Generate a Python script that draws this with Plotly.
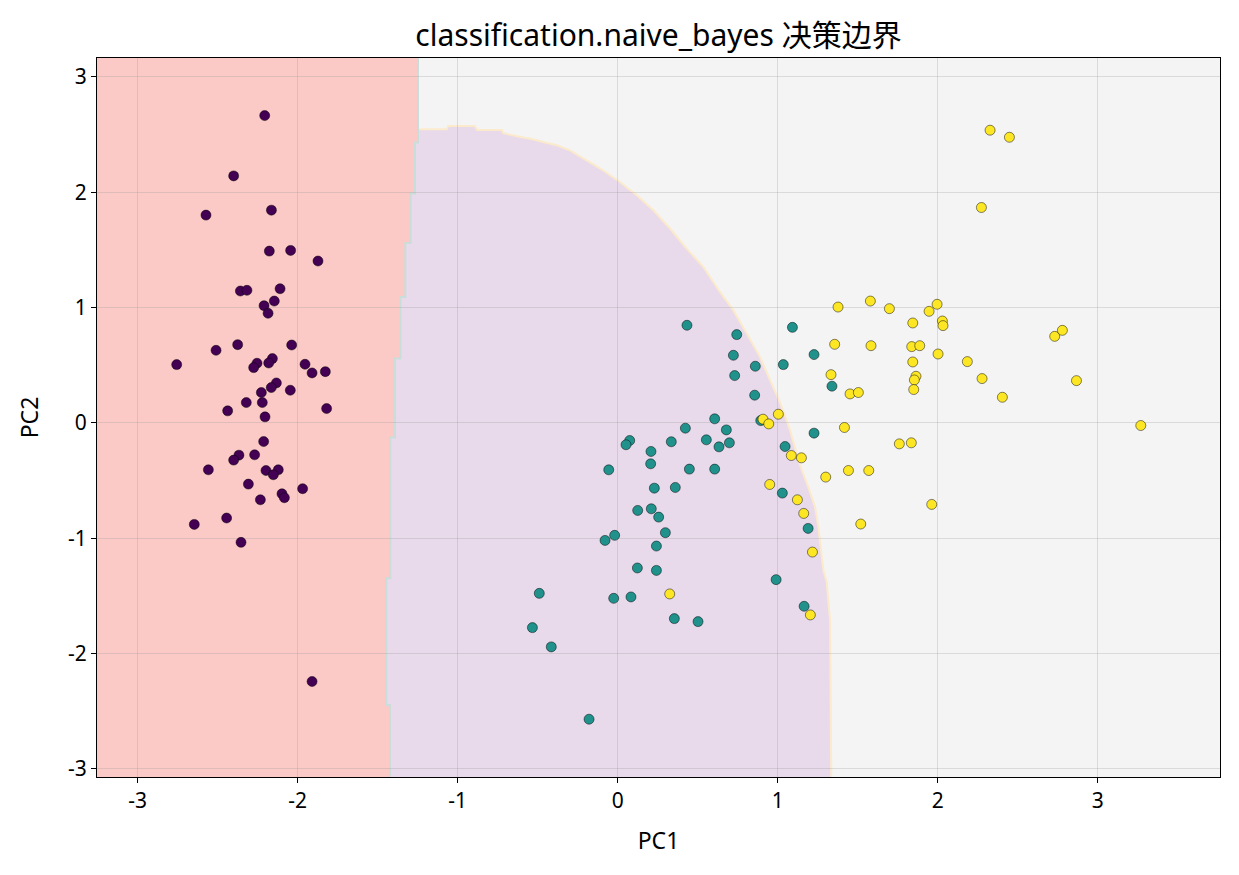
import plotly.graph_objects as go

# ---------------- data ----------------
c0_x = [-2.206, -2.40, -2.164, -2.573, -2.177, -2.044, -1.873, -2.358, -2.317, -2.110,
        -2.146, -2.21, -2.185, -2.375, -2.51, -2.0375, -2.756, -2.254, -2.275, -2.158,
        -2.181, -1.954, -1.910, -1.827, -2.133, -2.165, -2.227, -2.046, -2.321, -2.221,
        -2.4375, -1.819, -2.204, -2.2125, -2.367, -2.40, -2.269, -2.558, -2.198, -2.121,
        -2.152, -2.308, -1.969, -2.098, -2.083, -2.233, -2.444, -2.646, -2.354, -1.910]
c0_y = [2.664, 2.141, 1.844, 1.801, 1.489, 1.495, 1.403, 1.143, 1.149, 1.163,
        1.056, 1.016, 0.950, 0.678, 0.629, 0.675, 0.505, 0.517, 0.479, 0.557,
        0.519, 0.508, 0.433, 0.444, 0.346, 0.306, 0.263, 0.283, 0.176, 0.176,
        0.104, 0.124, 0.052, -0.162, -0.280, -0.323, -0.277, -0.407, -0.413, -0.407,
        -0.450, -0.531, -0.571, -0.615, -0.649, -0.667, -0.825, -0.880, -1.036, -2.242]

c1_x = [0.433, 0.606, 0.423, 0.554, 0.633, 0.075, 0.052, 0.335, 0.208, 0.206,
        -0.056, 0.448, 0.606, 0.229, 0.360, 0.125, 0.210, 0.256, 0.298, -0.019,
        -0.079, 0.242, 0.123, 0.242, -0.490, -0.025, 0.083, 0.354, 0.502, -0.533,
        -0.415, -0.179, 1.092, 0.744, 0.723, 1.227, 0.860, 1.035, 0.731, 1.339,
        0.856, 0.679, 0.698, 1.227, 1.046, 1.029, 1.190, 0.990, 1.165, 0.894]
c1_y = [0.846, 0.035, -0.046, -0.147, -0.208, -0.153, -0.190, -0.164, -0.248, -0.355,
        -0.407, -0.401, -0.401, -0.566, -0.560, -0.759, -0.745, -0.817, -0.952, -0.975,
        -1.019, -1.068, -1.258, -1.279, -1.478, -1.521, -1.509, -1.697, -1.723, -1.775,
        -1.942, -2.569, 0.828, 0.765, 0.586, 0.592, 0.491, 0.505, 0.410, 0.318,
        0.240, -0.061, -0.173, -0.089, -0.205, -0.609, -0.915, -1.359, -1.590, 0.020]

c2_x = [2.327, 2.448, 2.273, 1.377, 1.579, 1.698, 1.996, 1.946, 1.844, 2.029,
        2.033, 2.731, 2.779, 1.356, 1.583, 1.8375, 1.8875, 2.002, 1.844, 2.185,
        1.333, 1.864, 1.854, 2.277, 2.867, 1.452, 1.504, 1.85, 2.404, 3.269,
        1.417, 1.760, 1.835, 1.30, 1.442, 1.569, 1.9625, 1.519, 1.004, 0.908,
        0.944, 1.085, 1.148, 0.95, 1.123, 1.1625, 1.217, 1.204, 0.325]
c2_y = [2.537, 2.476, 1.867, 1.004, 1.056, 0.990, 1.028, 0.967, 0.866, 0.883,
        0.843, 0.750, 0.802, 0.681, 0.669, 0.661, 0.669, 0.597, 0.528, 0.531,
        0.418, 0.404, 0.372, 0.384, 0.366, 0.251, 0.263, 0.289, 0.222, -0.023,
        -0.040, -0.182, -0.173, -0.470, -0.413, -0.413, -0.707, -0.877, 0.075, 0.032,
        -0.009, -0.283, -0.303, -0.534, -0.667, -0.785, -1.120, -1.665, -1.483]

# decision boundary: class 0 / class 1 (staircase; x of each step, y where each step ends)
b01_x = [-1.248, -1.267, -1.294, -1.327, -1.358, -1.392, -1.421, -1.446, -1.423]
b01_y = [2.430, 1.988, 1.560, 1.092, 0.558, -0.127, -1.348, -2.446]

# decision boundary: class 1 / class 2 (top edge and arc)
b12_x = [-1.2356, -1.067, -1.060, -0.892, -0.879, -0.723, -0.717, -0.629, -0.529, -0.454,
         -0.379, -0.298, -0.111, 0.014, 0.119, 0.223, 0.327, 0.431, 0.535, 0.639,
         0.7225, 0.806, 0.889, 0.952, 1.014, 1.077, 1.139, 1.191, 1.233, 1.254,
         1.285, 1.306, 1.327, 1.336]
b12_y = [2.545, 2.545, 2.574, 2.574, 2.539, 2.539, 2.513, 2.484, 2.458, 2.430,
         2.406, 2.363, 2.207, 2.088, 1.973, 1.843, 1.685, 1.511, 1.352, 1.135,
         0.977, 0.775, 0.572, 0.370, 0.179, -0.063, -0.366, -0.557, -0.728, -0.904,
         -1.276, -1.380, -1.710, -3.3]

tick_vals = [-3, -2, -1, 0, 1, 2, 3]
tick_text = ["-3", "-2", "-1", "0", "1", "2", "3"]

X_RANGE = [-3.254, 3.764]
Y_RANGE = [-3.070, 3.163]

COL_R = "#FBCAC6"
COL_P = "#E8DAEB"
COL_G = "#F4F4F4"
FONT = "Noto Sans, Noto Sans CJK SC, sans-serif"

# ---------------- build region paths ----------------
YT, YB, XL = 3.4, -3.4, -3.6

def step_pts(xs, ys, ytop, ybot):
    pts = []
    yb = list(ys) + [ybot]
    prev = ytop
    for x, y in zip(xs, yb):
        pts.append((x, prev))
        pts.append((x, y))
        prev = y
    return pts

red_edge = step_pts(b01_x, b01_y, YT, YB)
red_path = "M {},{} ".format(XL, YT) + " ".join("L {},{}".format(x, y) for x, y in red_edge) + \
    " L {},{} Z".format(XL, YB)
red_line = "M " + " L ".join("{},{}".format(x, y) for x, y in red_edge)

arc = list(zip(b12_x, b12_y))
purple_path = "M -2.5,{} ".format(b12_y[0]) + " ".join("L {},{}".format(x, y) for x, y in arc) + \
    " L -2.5,{} Z".format(b12_y[-1])
arc_line = "M " + " L ".join("{},{}".format(x, y) for x, y in arc)

shapes = [
    dict(type="path", path=purple_path, xref="x", yref="y", fillcolor=COL_P,
         line=dict(width=0), layer="below"),
    dict(type="path", path=arc_line, xref="x", yref="y",
         line=dict(color="#FBEACB", width=2), layer="below"),
    dict(type="path", path=red_path, xref="x", yref="y", fillcolor=COL_R,
         line=dict(width=0), layer="below"),
    dict(type="path", path=red_line, xref="x", yref="y",
         line=dict(color="#C9DDDA", width=2), layer="below"),
]

fig = go.Figure()
for xs, ys, col in [(c0_x, c0_y, "#440154"), (c1_x, c1_y, "#21918c"), (c2_x, c2_y, "#fde725")]:
    fig.add_trace(go.Scatter(
        x=xs, y=ys, mode="markers",
        marker=dict(size=10, color=col, line=dict(color="rgba(0,0,0,0.8)", width=0.6)),
        showlegend=False, hoverinfo="skip"))

axis_common = dict(
    showline=True, linecolor="black", linewidth=1, mirror=True,
    ticks="outside", ticklen=5, tickwidth=1, tickcolor="black",
    showgrid=True, gridcolor="rgba(150,150,150,0.28)", gridwidth=1,
    zeroline=False, tickvals=tick_vals, ticktext=tick_text,
    tickfont=dict(family=FONT, size=21, color="black"),
)

fig.update_layout(
    width=1239, height=875,
    margin=dict(l=97, r=19, t=58, b=98),
    paper_bgcolor="white", plot_bgcolor=COL_G,
    shapes=shapes,
    title=dict(text="classification.naive_bayes 决策边界", x=0.5, xanchor="center",
               xref="paper", y=1 - 35 / 875, yref="container", yanchor="middle",
               font=dict(family=FONT, size=30, color="black")),
    xaxis=dict(range=X_RANGE, title=dict(text="PC1", font=dict(family=FONT, size=23, color="black"),
                                         standoff=19), **axis_common),
    yaxis=dict(range=Y_RANGE, title=dict(text="PC2", font=dict(family=FONT, size=23, color="black"),
                                         standoff=22), **axis_common),
)

fig.write_html("out.html")
